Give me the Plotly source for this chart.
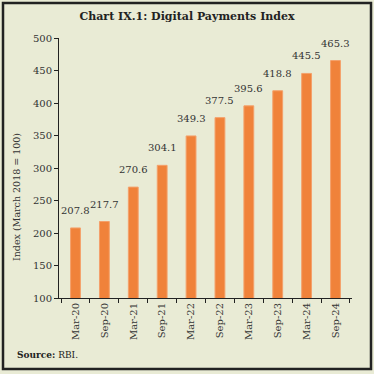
import plotly.graph_objects as go

categories = ["Mar-20", "Sep-20", "Mar-21", "Sep-21", "Mar-22", "Sep-22", "Mar-23", "Sep-23", "Mar-24", "Sep-24"]
values = [207.8, 217.7, 270.6, 304.1, 349.3, 377.5, 395.6, 418.8, 445.5, 465.3]
value_labels = ["207.8", "217.7", "270.6", "304.1", "349.3", "377.5", "395.6", "418.8", "445.5", "465.3"]

FONT = "DejaVu Serif"
TXT = "#333333"
BG = "#e9ebd5"

fig = go.Figure()
fig.add_trace(go.Bar(
    x=categories, y=values,
    marker=dict(color="#f0823a", line=dict(color="#f4a06a", width=1)),
    width=0.34, hoverinfo="x+y",
))

# plot area: x 59-352 px, y 38-298 px
pw, ph = 293.0, 260.0
def px(x):
    return (x - 59) / pw
def py(y):
    return (298 - y) / ph

annotations = [
    dict(text="<b>Source:</b> RBI.", xref="paper", yref="paper",
         x=px(15), y=py(355), xanchor="left", yanchor="middle", showarrow=False,
         font=dict(family=FONT, size=9, color="#222222")),
    dict(text="Index (March 2018 = 100)", xref="paper", yref="paper",
         x=px(16), y=py(197), xanchor="center", yanchor="middle", textangle=-90,
         showarrow=False, font=dict(family=FONT, size=9.5, color=TXT)),
]
for c, v, t in zip(categories, values, value_labels):
    annotations.append(dict(x=c, y=v, text=t, xref="x", yref="y", showarrow=False,
                            yanchor="bottom", yshift=10,
                            font=dict(family=FONT, size=10, color=TXT)))

fig.update_layout(
    width=374, height=374,
    margin=dict(l=59, r=22, t=38, b=76),
    paper_bgcolor=BG, plot_bgcolor="rgba(0,0,0,0)",
    showlegend=False,
    font=dict(family=FONT, size=10, color=TXT),
    title=dict(text="<b>Chart IX.1: Digital Payments Index</b>", x=0.5, xref="container",
               y=1 - 16 / 374, yanchor="middle", font=dict(family=FONT, size=11, color="#222222")),
    xaxis=dict(showline=True, linecolor="#222222", linewidth=1, ticks="outside", ticklen=4,
               tickcolor="#222222", tickson="boundaries", tickangle=-90, showgrid=False,
               automargin=False, tickfont=dict(family=FONT, size=10, color=TXT)),
    yaxis=dict(range=[100, 500], dtick=50, showline=True, linecolor="#222222", linewidth=1,
               ticks="outside", ticklen=4, tickcolor="#222222", showgrid=False, zeroline=False,
               automargin=False, tickfont=dict(family=FONT, size=10, color=TXT)),
    shapes=[dict(type="rect", xref="paper", yref="paper",
                 x0=px(3), x1=px(371), y0=py(369), y1=py(3),
                 line=dict(color="#222222", width=2.5), fillcolor="rgba(0,0,0,0)", layer="below")],
    annotations=annotations,
)

fig.write_html("out.html", config={"displayModeBar": False},
               post_script="document.body.style.margin='0';document.body.style.background='#ffffff';")
